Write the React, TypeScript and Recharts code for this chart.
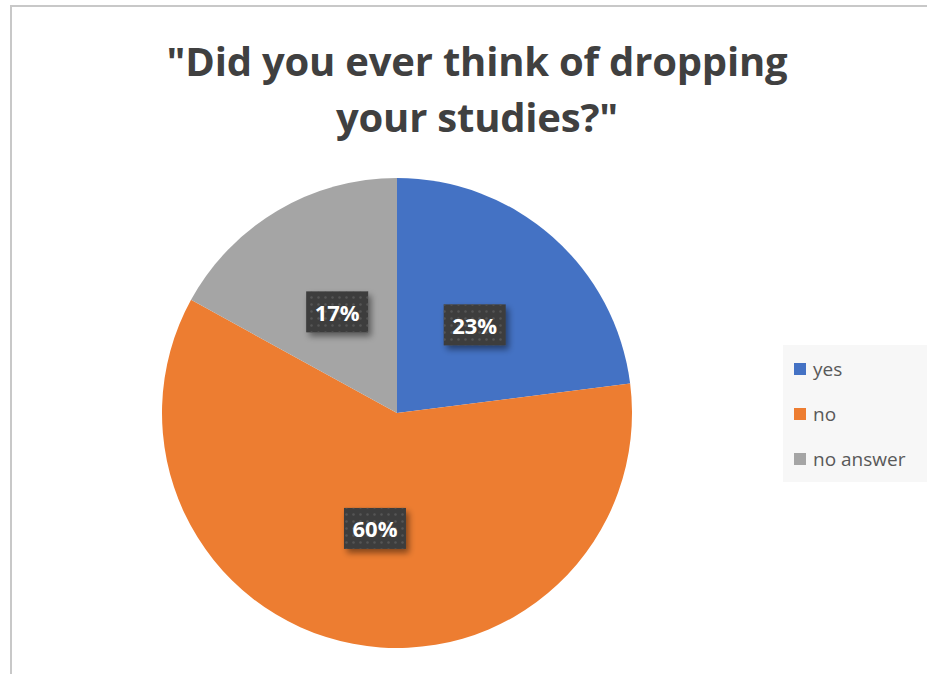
import React from "react";
import { PieChart, Pie, Cell } from "recharts";

const categories = ["yes", "no", "no answer"];
const values = [23, 60, 17];
const colors = ["#4472C4", "#ED7D31", "#A5A5A5"];
const titleLines = ['"Did you ever think of dropping', 'your studies?"'];

const data = categories.map((name, i) => ({ name, value: values[i] }));

const RAD = Math.PI / 180;

const renderLabel = (props: any) => {
  const { cx, cy, midAngle, outerRadius, percent } = props;
  const r = outerRadius * 0.5;
  const x = cx + r * Math.cos(-midAngle * RAD);
  const y = cy + r * Math.sin(-midAngle * RAD);
  const w = 62;
  const h = 41;
  return (
    <g>
      <rect x={x - w / 2} y={y - h / 2} width={w} height={h} fill="#3d3d3d" filter="url(#lblShadow)" />
      <rect x={x - w / 2} y={y - h / 2} width={w} height={h} fill="url(#dots)" />
      <text
        x={x}
        y={y}
        textAnchor="middle"
        dominantBaseline="central"
        fill="#ffffff"
        fontFamily="'Open Sans', Lato, sans-serif"
        fontWeight={700}
        fontSize={22}
      >
        {`${Math.round(percent * 100)}%`}
      </text>
    </g>
  );
};

export default function App() {
  return (
    <div style={{ position: "absolute", left: 0, top: 0, width: 927, height: 674, background: "#ffffff", overflow: "hidden" }}>
      <div
        style={{
          position: "absolute",
          left: 10,
          top: 5,
          width: 930,
          height: 680,
          borderTop: "2px solid #c8c8c8",
          borderLeft: "2px solid #c8c8c8",
        }}
      />
      <div
        style={{
          position: "absolute",
          left: 0,
          top: 33,
          width: 954,
          textAlign: "center",
          fontFamily: "'Open Sans', Lato, sans-serif",
          fontWeight: 700,
          fontSize: 40,
          lineHeight: "56px",
          letterSpacing: -0.2,
          color: "#404040",
        }}
      >
        <div>{titleLines[0]}</div>
        <div>{titleLines[1]}</div>
      </div>
      <div style={{ position: "absolute", left: 0, top: 0 }}>
        <PieChart width={927} height={674} margin={{ top: 0, right: 0, bottom: 0, left: 0 }}>
          <defs>
            <filter id="lblShadow" x="-30%" y="-30%" width="170%" height="170%">
              <feDropShadow dx={3} dy={4} stdDeviation={3} floodColor="#000000" floodOpacity={0.45} />
            </filter>
            <pattern id="dots" x={0} y={0} width={7} height={7} patternUnits="userSpaceOnUse">
              <circle cx={3.5} cy={3.5} r={1.2} fill="#555555" />
            </pattern>
          </defs>
          <Pie
            data={data}
            dataKey="value"
            nameKey="name"
            cx={397}
            cy={413}
            outerRadius={235}
            startAngle={90}
            endAngle={-270}
            stroke="none"
            label={renderLabel}
            labelLine={false}
            isAnimationActive={false}
          >
            {data.map((d, i) => (
              <Cell key={d.name} fill={colors[i]} />
            ))}
          </Pie>
        </PieChart>
      </div>
      <div
        style={{
          position: "absolute",
          left: 783,
          top: 345,
          background: "#f7f7f7",
          width: 144,
          height: 137,
          boxSizing: "border-box",
          paddingTop: 1,
          paddingLeft: 11,
          fontFamily: "'Open Sans', Lato, sans-serif",
          fontSize: 19,
          color: "#595959",
        }}
      >
        {categories.map((name, i) => (
          <div key={name} style={{ display: "flex", alignItems: "center", height: 45 }}>
            <span style={{ width: 12, height: 12, background: colors[i], display: "inline-block", marginRight: 7 }} />
            <span>{name}</span>
          </div>
        ))}
      </div>
    </div>
  );
}
